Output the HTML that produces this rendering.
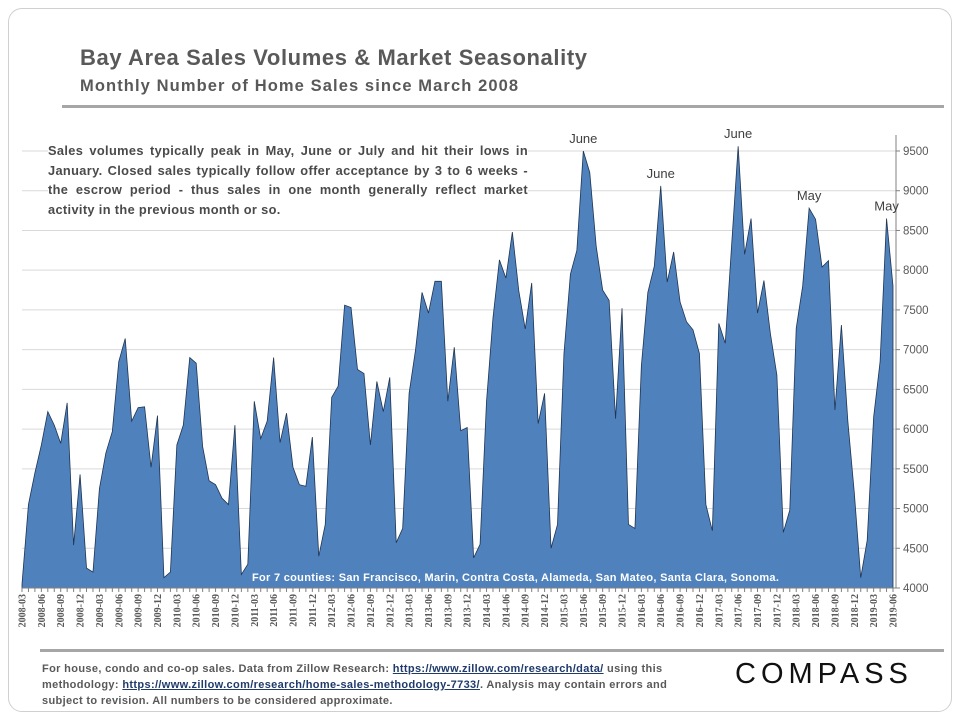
<!DOCTYPE html>
<html><head><meta charset="utf-8"><style>
body{margin:0;background:#fff;width:960px;height:720px;overflow:hidden;font-family:"Liberation Sans",sans-serif;}
.card{position:absolute;left:8px;top:8px;width:942px;height:702px;border:1px solid #d0d0d0;border-radius:14px;}
.t1{position:absolute;left:80px;top:45px;font-size:22px;font-weight:bold;color:#595959;letter-spacing:0.6px;}
.t2{position:absolute;left:80px;top:77px;font-size:16.5px;font-weight:bold;color:#595959;letter-spacing:1.1px;}
.note{position:absolute;left:48px;top:141px;width:480px;font-size:12.8px;font-weight:bold;color:#4a4a4a;line-height:19.5px;text-align:justify;background:#fff;letter-spacing:0.35px;}
.foot{position:absolute;left:42px;top:661px;font-size:11px;font-weight:bold;color:#595959;line-height:16px;letter-spacing:0.35px;white-space:nowrap;}
.foot a{color:#1f3a6b;text-decoration:underline;}
.logo{position:absolute;left:735px;top:658px;font-size:29px;letter-spacing:5px;color:#111;}
</style></head><body>
<div class="card"></div>
<div class="t1">Bay Area Sales Volumes &amp; Market Seasonality</div>
<div class="t2">Monthly Number of Home Sales since March 2008</div>
<svg id="chart" width="960" height="720" style="position:absolute;left:0;top:0"></svg>
<div class="note">Sales volumes typically peak in May, June or July and hit their lows in January. Closed sales typically follow offer acceptance by 3 to 6 weeks - the escrow period - thus sales in one month generally reflect market activity in the previous month or so.</div>
<div class="foot">For house, condo and co-op sales. Data from Zillow Research: <a>https://www.zillow.com/research/data/</a> using this<br>methodology: <a>https://www.zillow.com/research/home-sales-methodology-7733/</a>. Analysis may contain errors and<br>subject to revision. All numbers to be considered approximate.</div>
<div class="logo">COMPASS</div>
<script>
const startYear=2008, startMonth=3;
const sales=[
4050,5050,5450,5800,6220,6050,5820,6330,4540,5430,
4250,4200,5250,5700,5970,6850,7140,6100,6270,6280,5520,6170,
4130,4200,5800,6050,6900,6830,5780,5350,5300,5130,5050,6050,
4170,4300,6350,5880,6100,6900,5830,6200,5520,5300,5280,5900,
4400,4800,6400,6540,7560,7530,6750,6700,5800,6600,6220,6650,
4570,4750,6450,7000,7720,7460,7860,7860,6350,7030,5980,6020,
4380,4550,6350,7400,8130,7900,8480,7740,7260,7840,6070,6450,
4500,4800,6950,7950,8250,9500,9230,8300,7750,7620,6130,7520,
4800,4750,6800,7720,8050,9060,7850,8230,7600,7350,7250,6950,
5050,4720,7330,7080,8330,9560,8200,8650,7460,7870,7200,6680,
4700,4980,7270,7800,8780,8640,8040,8120,6240,7310,6100,5200,
4130,4600,6150,6850,8650,7800];
const yTicks=[4000,4500,5000,5500,6000,6500,7000,7500,8000,8500,9000,9500];
const peakLabels=[["June",87],["June",99],["June",111],["May",122],["May",134]];
const NS="http://www.w3.org/2000/svg";
const svg=document.getElementById('chart');
const X0=22,X1=893,Y0=588,Y1=151;
const xs=i=>X0+i*(X1-X0)/(sales.length-1);
const ys=v=>Y0-(v-4000)*(Y0-Y1)/5500;
function mk(t,a){const e=document.createElementNS(NS,t);for(const k in a)e.setAttribute(k,a[k]);svg.appendChild(e);return e;}
yTicks.forEach(v=>{
 const g=mk('line',{x1:X0,x2:896,y1:ys(v),y2:ys(v),stroke:'#d9d9d9','stroke-width':1});
 
 
 const t=mk('text',{x:903,y:ys(v)+4,'font-size':11.5,fill:'#595959','font-family':'Liberation Sans, sans-serif'});
 t.textContent=v;
 
 
 const tk=mk('line',{x1:896,x2:900,y1:ys(v),y2:ys(v),stroke:'#808080'});
 
 
});
let d='M'+xs(0)+','+Y0;
sales.forEach((v,i)=>{d+=' L'+xs(i).toFixed(2)+','+ys(v).toFixed(2);});
d+=' L'+xs(sales.length-1)+','+Y0+' Z';
const area=mk('path',{d:d,fill:'#4f81bd',stroke:'#1f3552','stroke-width':0.8});


const ax=mk('line',{x1:896,x2:896,y1:135,y2:588,stroke:'#808080'});


const bx=mk('line',{x1:X0,x2:896,y1:588,y2:588,stroke:'#808080'});


sales.forEach((v,i)=>{
 const tk=mk('line',{x1:xs(i),x2:xs(i),y1:588,y2:592,stroke:'#808080'});
 
 
 if(i%3===0){
  const m=startMonth-1+i, yr=startYear+Math.floor(m/12), mo=m%12+1;
  const t=mk('text',{x:0,y:0,'font-size':10,'font-weight':'bold',fill:'#595959','font-family':'Liberation Serif, serif','text-anchor':'end',transform:'translate('+(xs(i)+3.5)+',594) rotate(-90)'});
  t.textContent=yr+'-'+String(mo).padStart(2,'0');
  
  
 }
});
peakLabels.forEach(([lab,i])=>{
 const t=mk('text',{x:xs(i),y:ys(sales[i])-8,'font-size':13,fill:'#404040','text-anchor':'middle','font-family':'Liberation Sans, sans-serif'});
 t.textContent=lab;
 
 
});
const ct=mk('text',{x:252,y:581,'font-size':11,'font-weight':'bold',fill:'#fff','font-family':'Liberation Sans, sans-serif','letter-spacing':0.3});
ct.textContent='For 7 counties: San Francisco,  Marin,  Contra Costa, Alameda, San Mateo, Santa Clara, Sonoma.';


const r1=mk('rect',{x:62,y:105,width:882,height:3,fill:'#a6a6a6'});


const r2=mk('rect',{x:40,y:649,width:904,height:3,fill:'#a6a6a6'});


</script>
</body></html>
